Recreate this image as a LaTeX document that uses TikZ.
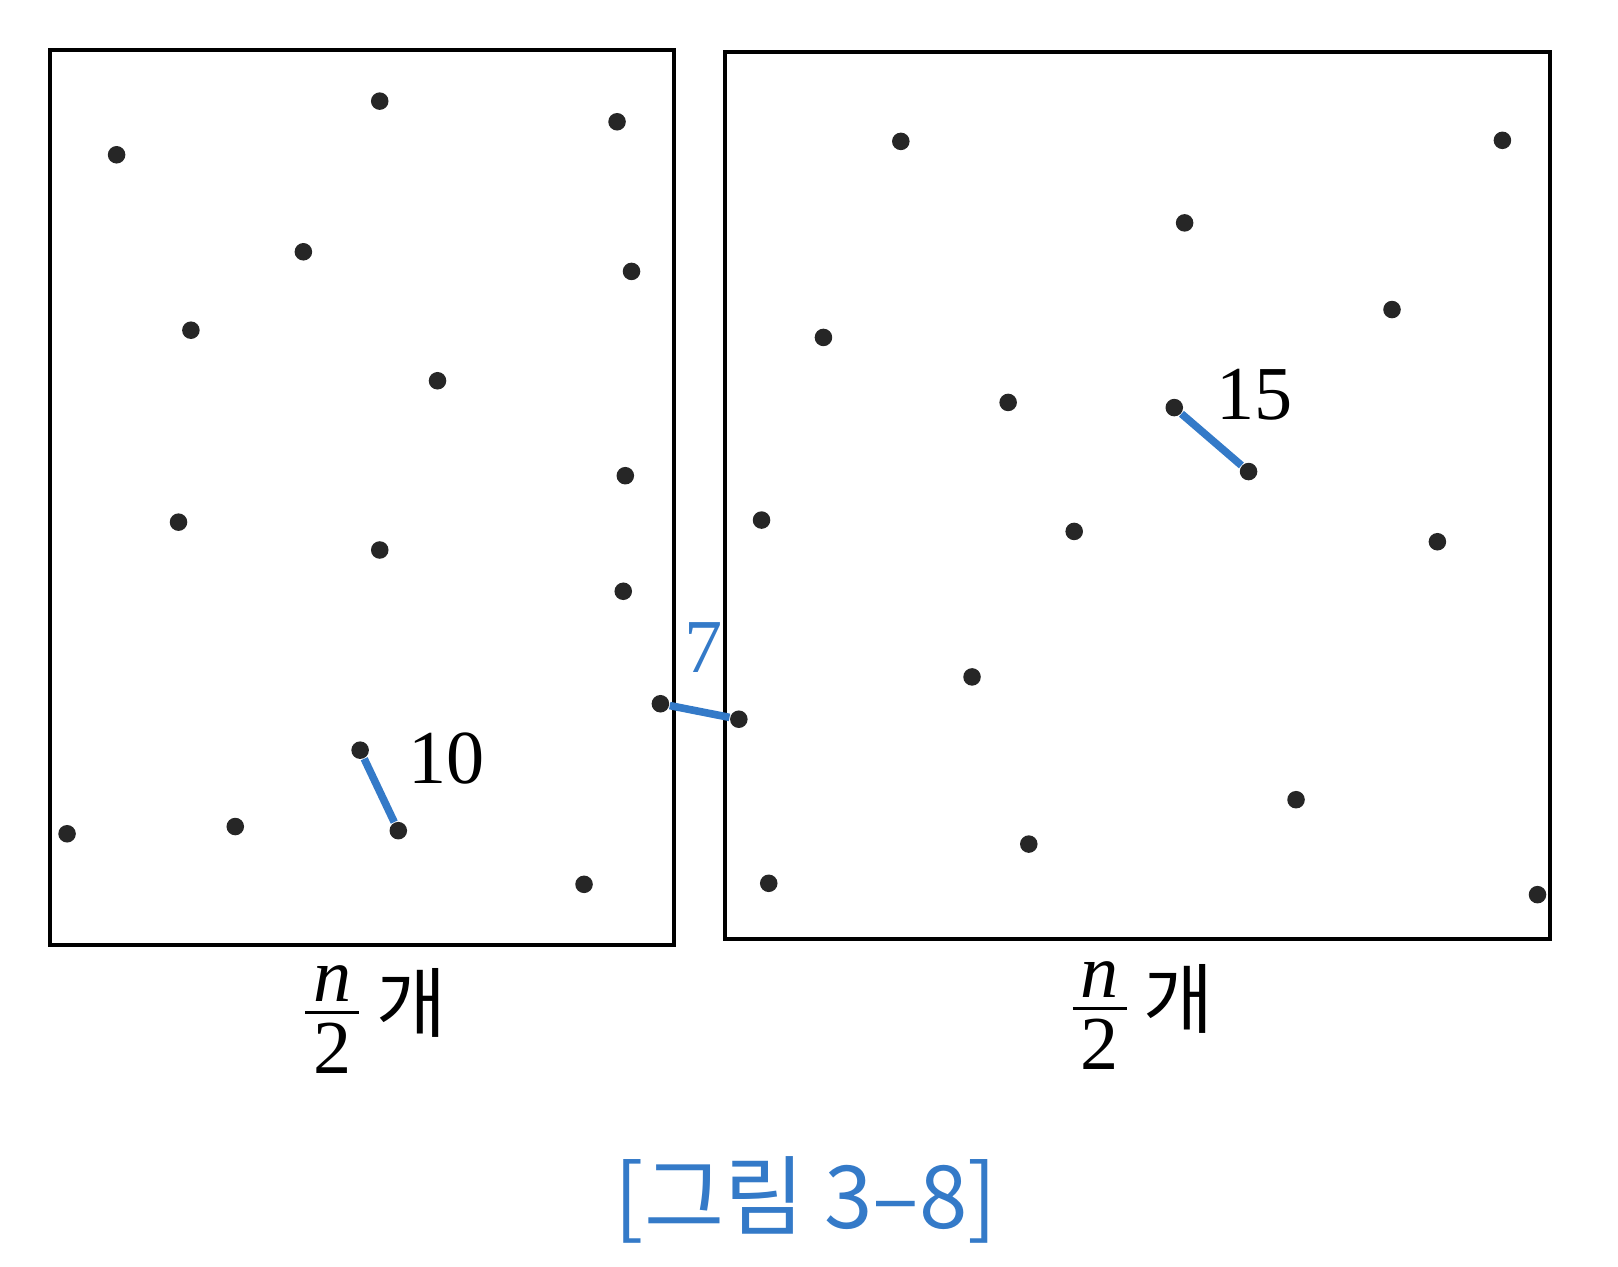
\RequirePackage{fix-cm}
\documentclass[tikz,border=0pt]{standalone}
\usepackage{amsmath}
\usepackage{fontspec}
\setmainfont{Liberation Serif}
\newfontfamily\kor{Noto Sans CJK KR}
\usetikzlibrary{math}
\definecolor{segblue}{RGB}{52,122,200}
\newcommand{\halfsize}{\fontsize{21}{24}\selectfont}
\newcommand{\halfn}{$\genfrac{}{}{0.8pt}{1}{\text{\halfsize\itshape n}}{\text{\halfsize\hspace{2.2pt}\rule{0pt}{15.6pt}2\hspace{2.2pt}}}$}

\tikzset{
  dot/.style={circle, fill=black!85, inner sep=0pt, minimum size=0.17cm},
  pairline/.style={segblue, line width=2.1pt},
  dist/.style={font=\fontsize{21}{23}\selectfont},
  half/.style={font=\halfsize},
}

\begin{document}
\begin{tikzpicture}[x=0.01cm, y=-0.01cm]
\tikzmath{
\W=1568;
\H=1227;
}
\useasboundingbox (0,0) rectangle (\W,\H);

% the two halves
\draw[line width=1.1pt] (48,48) rectangle (653,916);
\draw[line width=1.1pt] (703,50) rectangle (1502,910);

% points, left half
\foreach \x/\y [count=\i] in {368/98, 113/150, 598/118, 294/244, 612/263, 185/320,
  424/369, 606/461, 173/506, 368/533, 604/573, 640/682, 349/727, 386/805,
  65/808, 228/801, 566/857}
  \node[dot] (L\i) at (\x,\y) {};
% points, right half
\foreach \x/\y [count=\i] in {873/137, 1456/136, 1148/216, 1349/300, 798/327,
  977/390, 1138/395, 1210/457, 738/504, 1041/515, 1393/525, 942/656, 716/697,
  1256/775, 997/818, 745/856, 1490/867}
  \node[dot] (R\i) at (\x,\y) {};

% closest pairs
\draw[pairline] (L13) -- (L14);
\draw[pairline] (L12) -- (R13);
\draw[pairline] (R7) -- (R8);
\node[dist] (d10) at (433,735) {10};
\node[dist, segblue] (d7) at (682,628) {7};
\node[dist] (d15) at (1216,383) {15};

\node[half] (nl) at (362,988) {\halfn\,\kor 개};
\node[half] (nr) at (1106,984) {\halfn\,\kor 개};

\node[segblue, font=\kor\fontsize{24}{27}\selectfont] (cap) at (781,1163) {[그림 3–8]};
\end{tikzpicture}
\end{document}
